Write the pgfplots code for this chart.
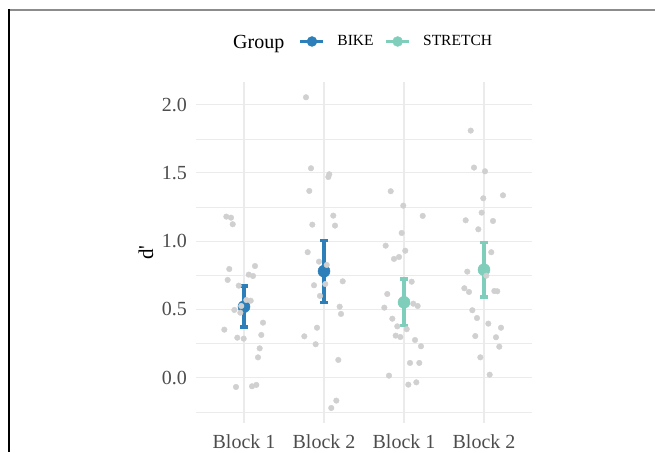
\documentclass[border=0pt]{standalone}
\usepackage{fontspec}
\setmainfont{Liberation Serif}
\newfontfamily\plainfont{Liberation Serif}
\usepackage{pgfplots}
\pgfplotsset{compat=1.18}
\definecolor{bike}{HTML}{2C7FB8}
\definecolor{stretch}{HTML}{7FCDBB}
\definecolor{pts}{HTML}{D0D0D0}
\definecolor{txt}{HTML}{4D4D4D}
\definecolor{gridc}{HTML}{EBEBEB}
\begin{document}
\begin{tikzpicture}
\path[use as bounding box] (0pt,0pt) rectangle (655pt,452pt);
\draw[color=gray!90, line width=1.1pt] (8pt,442pt) -- (655pt,442pt);
\draw[black, line width=1.1pt] (9pt,442.5pt) -- (9pt,0pt);
\node[anchor=base west, inner sep=0pt, font=\fontsize{20}{24}\selectfont] at (233pt,403.7pt) {Group};
\begin{axis}[
  at={(196pt,29pt)}, anchor=south west, scale only axis,
  width=336pt, height=341pt,
  xmin=0.4, xmax=4.6, ymin=-0.332, ymax=2.166,
  xtick={1,2,3,4}, xticklabels={Block 1,Block 2,Block 1,Block 2},
  ytick={0,0.5,1,1.5,2}, yticklabels={0.0,0.5,1.0,1.5,2.0},
  minor ytick={-0.25,0.25,0.75,1.25,1.75},
  xmajorgrids, ymajorgrids, yminorgrids,
  major grid style={color=gridc, line width=1.1pt},
  minor grid style={color=gridc, line width=0.55pt},
  axis line style={draw=none}, tick style={draw=none},
  ticklabel style={font=\fontsize{20}{24}\selectfont, text=txt, inner sep=0pt},
  yticklabel style={xshift=-9pt},
  xticklabel style={yshift=-11pt},
  ylabel={\plainfont d'},
  ylabel style={at={(axis description cs:-0.149,0.5)}, anchor=center, font=\fontsize{21}{25}\selectfont},
  legend style={draw=none, fill=none, at={(0.3065,1.1188)}, anchor=west,
    legend columns=-1, inner sep=0pt, outer sep=0pt,
    nodes={inner sep=0pt, font=\fontsize{15.5}{18}\selectfont, text=black},
    /tikz/every odd column/.append style={column sep=12.5pt},
    /tikz/every even column/.append style={column sep=11pt}},
  legend image code/.code={\draw[line width=3pt] (0pt,0pt) -- (23pt,0pt); \fill (11.5pt,0pt) circle (5pt);},
]
\addplot[only marks, mark=*, mark size=6pt, color=bike, mark options={draw=bike, fill=bike, line width=0.5pt},
  error bars/.cd, y dir=both, y explicit,
  error bar style={line width=3.3pt, color=bike},
  error mark options={rotate=90, mark size=4.2pt, line width=3.3pt, color=bike}]
  coordinates {(1,0.52) += (0,0.152) -= (0,0.149) (2,0.78) += (0,0.227) -= (0,0.228)};
\addlegendentry{BIKE}
\addplot[only marks, mark=*, mark size=6pt, color=stretch, mark options={draw=stretch, fill=stretch, line width=0.5pt},
  error bars/.cd, y dir=both, y explicit,
  error bar style={line width=3.3pt, color=stretch},
  error mark options={rotate=90, mark size=4.2pt, line width=3.3pt, color=stretch}]
  coordinates {(3,0.552) += (0,0.171) -= (0,0.171) (4,0.791) += (0,0.201) -= (0,0.200)};
\addlegendentry{STRETCH}
\addplot[only marks, mark=*, mark size=2.8pt, color=pts, mark options={draw=none, fill=pts}, forget plot]
  table[row sep=\\] {
  x y \\
  0.779 1.180 \\ 0.8375 1.172 \\ 0.859 1.124 \\ 0.816 0.796 \\ 0.796 0.716 \\
  1.1375 0.818 \\ 1.059 0.755 \\ 1.1125 0.745 \\ 0.934 0.674 \\ 1.029 0.569 \\
  1.084 0.564 \\ 0.966 0.525 \\ 0.879 0.496 \\ 0.954 0.476 \\ 0.754 0.352 \\
  1.2375 0.403 \\ 0.916 0.293 \\ 0.996 0.286 \\ 1.216 0.313 \\ 1.196 0.215 \\
  1.175 0.149 \\ 0.900 -0.068 \\ 1.100 -0.063 \\ 1.154 -0.053 \\
  1.775 2.054 \\ 1.8375 1.534 \\ 2.066 1.490 \\ 2.054 1.470 \\ 1.816 1.368 \\
  1.854 1.121 \\ 2.116 1.187 \\ 2.1375 1.114 \\ 1.796 0.919 \\ 1.9375 0.850 \\
  2.034 0.826 \\ 1.875 0.677 \\ 2.234 0.706 \\ 2.016 0.686 \\ 1.950 0.599 \\
  2.196 0.520 \\ 2.2125 0.467 \\ 1.9125 0.366 \\ 1.754 0.303 \\ 1.896 0.245 \\
  2.179 0.130 \\ 2.154 -0.168 \\ 2.091 -0.222 \\
  2.834 1.366 \\ 2.991 1.260 \\ 3.234 1.185 \\ 2.971 1.060 \\ 2.771 0.967 \\
  3.016 0.930 \\ 2.9375 0.884 \\ 2.875 0.870 \\ 3.096 0.703 \\ 2.791 0.613 \\
  2.754 0.513 \\ 3.116 0.542 \\ 3.171 0.525 \\ 2.854 0.432 \\ 2.916 0.376 \\
  3.034 0.355 \\ 2.896 0.308 \\ 2.954 0.298 \\ 3.1375 0.276 \\ 3.2125 0.230 \\
  3.075 0.108 \\ 3.191 0.108 \\ 2.8125 0.015 \\ 3.054 -0.051 \\ 3.154 -0.034 \\
  3.834 1.810 \\ 3.875 1.539 \\ 4.0125 1.512 \\ 4.2375 1.336 \\ 3.991 1.314 \\
  3.971 1.209 \\ 3.771 1.153 \\ 4.1125 1.148 \\ 3.929 1.087 \\ 4.091 0.919 \\
  4.029 0.747 \\ 3.791 0.777 \\ 3.754 0.655 \\ 3.8125 0.628 \\ 4.129 0.635 \\
  4.166 0.633 \\ 3.854 0.494 \\ 3.9125 0.437 \\ 4.054 0.396 \\ 4.2125 0.366 \\
  3.891 0.305 \\ 4.150 0.296 \\ 4.191 0.227 \\ 3.954 0.149 \\ 4.071 0.022 \\
  };
\end{axis}
\end{tikzpicture}
\end{document}
